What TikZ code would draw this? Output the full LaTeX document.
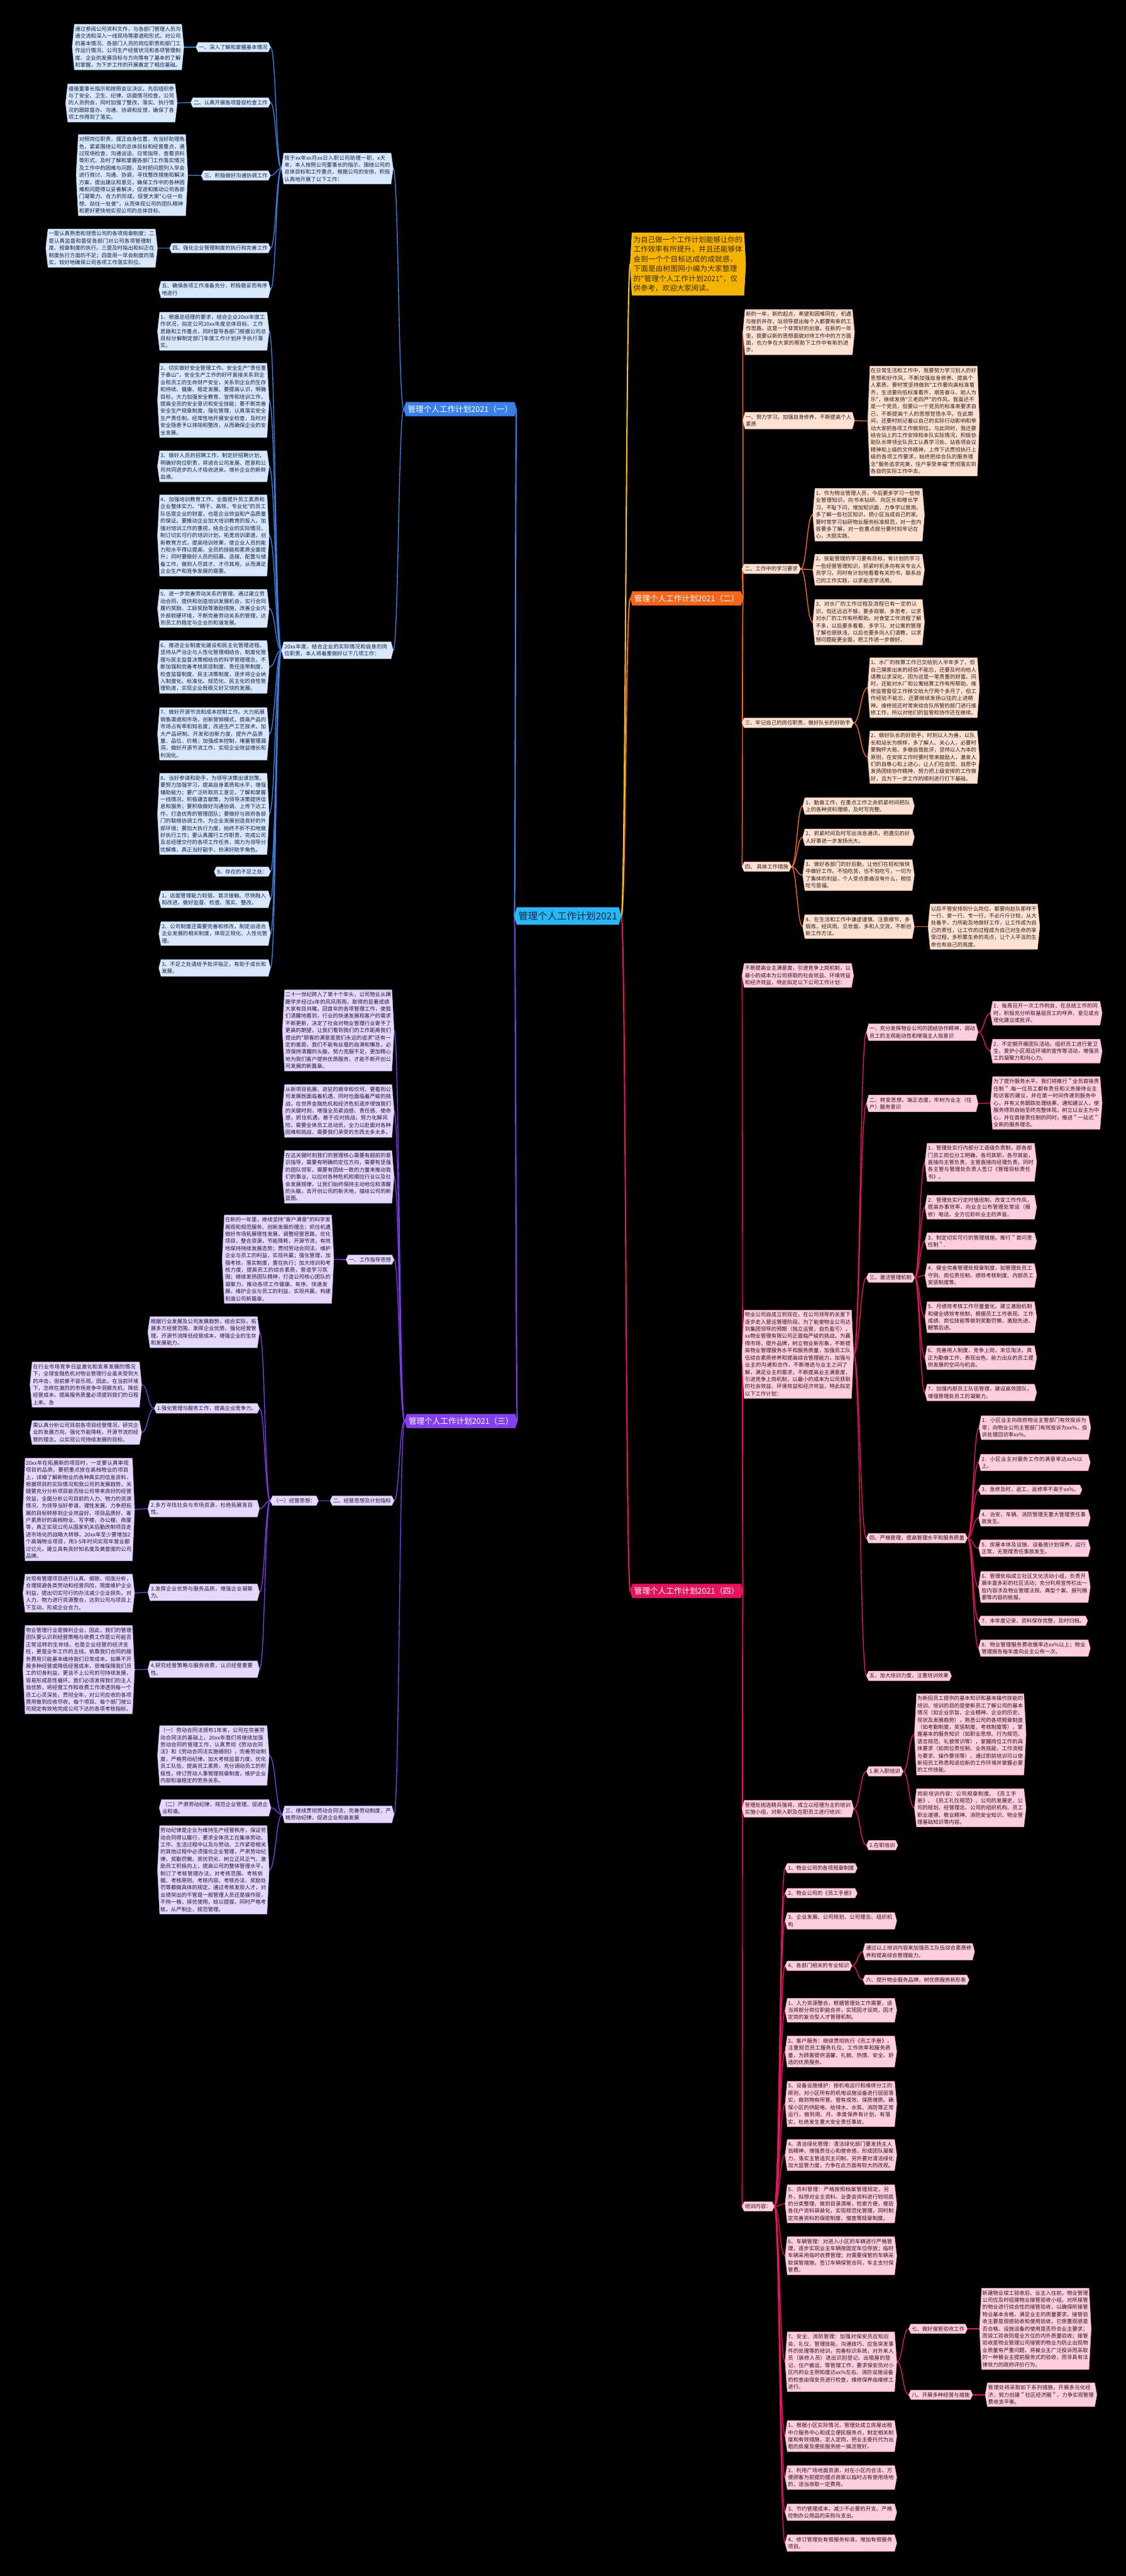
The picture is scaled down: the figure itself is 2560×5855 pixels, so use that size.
\documentclass[tikz,border=0pt]{standalone}
\usepackage{fontspec}
\newfontfamily\cjk{Noto Sans CJK SC}
\XeTeXlinebreaklocale "zh"
\XeTeXlinebreakskip=0pt plus 1pt
\usetikzlibrary{calc}
\pgfdeclarelayer{back}\pgfdeclarelayer{lines}\pgfdeclarelayer{bg}
\pgfsetlayers{back,lines,bg,main}
\definecolor{lineb}{HTML}{3C7FE0}\definecolor{fillb}{HTML}{DAE8FC}\definecolor{edgeb}{HTML}{A9C6F2}\definecolor{txtb}{HTML}{0E1F45}\definecolor{brb}{HTML}{3A80EA}
\definecolor{lineo}{HTML}{F06D22}\definecolor{fillo}{HTML}{FDE2D4}\definecolor{edgeo}{HTML}{F3B79A}\definecolor{txto}{HTML}{2B1A12}\definecolor{bro}{HTML}{F2661E}
\definecolor{linep}{HTML}{7A3DE6}\definecolor{fillp}{HTML}{E4D9FB}\definecolor{edgep}{HTML}{BCA6F0}\definecolor{txtp}{HTML}{1F1240}\definecolor{brp}{HTML}{8540EE}
\definecolor{liner}{HTML}{E8155F}\definecolor{fillr}{HTML}{FFCFE0}\definecolor{edger}{HTML}{F59ABD}\definecolor{txtr}{HTML}{2E0F1C}\definecolor{brr}{HTML}{E5125D}
\definecolor{liney}{HTML}{F2C01A}\definecolor{fillyl}{HTML}{F6B400}\definecolor{edgeyl}{HTML}{FFD45A}\definecolor{txtyl}{HTML}{3A2A00}
\definecolor{cfill}{HTML}{29B6F2}\definecolor{ctxt}{HTML}{0B2A45}
\tikzset{
 base/.style={font=\cjk\fontsize{12pt}{16.3pt}\selectfont, inner xsep=6.5pt, inner ysep=5pt, align=left},
 tw/.style={text width=240.5pt},
 lb/.style={draw=lineb, line width=2pt}, lo/.style={draw=lineo, line width=2pt},
 lp/.style={draw=linep, line width=2pt}, lr/.style={draw=liner, line width=2pt},
 mb/.style={draw=lineb, line width=3pt}, mo/.style={draw=lineo, line width=3pt},
 mp/.style={draw=linep, line width=3pt}, mr/.style={draw=liner, line width=3pt},
 my/.style={draw=liney, line width=3pt},
 brst/.style={font=\cjk\fontsize{18pt}{22pt}\selectfont, text=white, inner xsep=9pt, inner ysep=7pt},
}
\newcommand\hexit[4]{\begin{pgfonlayer}{bg}\filldraw[fill=#2,draw=#3,line width=0.8pt,line join=round] ([xshift=#4]#1.north west) -- ([xshift=-#4]#1.north east) -- (#1.east) -- ([xshift=-#4]#1.south east) -- ([xshift=#4]#1.south west) -- (#1.west) -- cycle;\end{pgfonlayer}}
\newcommand\mknode[6]{\node[base,text=txt#1,anchor=#3,#5] (#2) at (#4) {#6};\hexit{#2}{fill#1}{edge#1}{5pt}}
\newcommand\mylink[3]{\begin{pgfonlayer}{lines}\draw[#1] let \p1=(#2), \p2=(#3) in (\p1) .. controls ({0.5*\x1+0.5*\x2},\y1) and ({0.5*\x1+0.5*\x2},\y2) .. (\p2);\end{pgfonlayer}}
\newcommand\fanleft[3]{\foreach \c in {#3}{\mylink{#1}{#2.west}{\c.east}}}
\newcommand\fanright[3]{\foreach \c in {#3}{\mylink{#1}{#2.east}{\c.west}}}
\begin{document}
\begin{tikzpicture}[x=1pt,y=-1pt]
\useasboundingbox (0,0) rectangle (2560,5855);
\begin{pgfonlayer}{back}\fill[black] (0,0) rectangle (2560,5855);\end{pgfonlayer}

% ---------- central and branch nodes
\node[font=\cjk\fontsize{22pt}{26pt}\selectfont, text=ctxt, inner xsep=9pt, inner ysep=9pt] (C) at (1291,2082) {管理个人工作计划2021};
\hexit{C}{cfill}{cfill}{6pt}
\node[brst,anchor=west] (BR1) at (918,930) {管理个人工作计划2021（一）};\hexit{BR1}{brb}{brb}{5pt}
\node[brst,anchor=west] (BR3) at (920,3230) {管理个人工作计划2021（三）};\hexit{BR3}{brp}{brp}{5pt}
\node[brst,anchor=west] (BR2) at (1433,1360) {管理个人工作计划2021（二）};\hexit{BR2}{bro}{bro}{5pt}
\node[brst,anchor=west] (BR4) at (1433,3616) {管理个人工作计划2021（四）};\hexit{BR4}{brr}{brr}{5pt}
\node[font=\cjk\fontsize{16.5pt}{22pt}\selectfont, text=txtyl, text width=248pt, align=left, inner xsep=7pt, inner ysep=8pt, anchor=west] (INTRO) at (1433,600) {为自己做一个工作计划能够让你的工作效率有所提升，并且还能够体会到一个个目标达成的成就感，下面是由树图网小编为大家整理的"管理个人工作计划2021"，仅供参考，欢迎大家阅读。};
\hexit{INTRO}{fillyl}{edgeyl}{4pt}
\mylink{mb}{C.west}{BR1.east}
\mylink{mp}{C.west}{BR3.east}
\mylink{mo}{C.east}{BR2.west}
\mylink{mr}{C.east}{BR4.west}
\mylink{my}{C.east}{INTRO.west}

% ---------- branch 1 (blue)
\mknode{b}{I1}{east}{894,383}{tw}{我于xx年xx月xx日入职公司助理一职，x天来，本人按照公司董事长的指示，围绕公司的总体目标和工作重点，根据公司的安排，积极认真地开展了以下工作：}
\mknode{b}{I2}{east}{894,1478}{tw}{20xx年度，结合企业的实际情况和自身的岗位职责，本人将着重做好以下几项工作：}
\mknode{b}{A1}{east}{615,107}{}{一、深入了解和掌握基本情况}
\mknode{b}{A1c}{east}{418,107}{tw}{通过参阅公司资料文件，与各部门管理人员沟通交流和深入一线现场等渠道和形式，对公司的基本情况、各部门人员的岗位职责和部门工作运行情况，公司生产经营状况和各项管理制度、企业的发展目标与方向等有了基本的了解和掌握，为下步工作的开展奠定了相应基础。}
\mknode{b}{A2}{east}{615,233}{}{二、认真开展各项督促检查工作}
\mknode{b}{A2c}{east}{403,234}{tw}{遵循董事长指示和按照会议决议，先后组织参与了安全、卫生、纪律、店面情况检查，公司的人员例会，同时加强了整改、落实、执行情况的跟踪督办、沟通、协调和反馈，确保了各项工作得到了落实。}
\mknode{b}{A3}{east}{615,399}{}{三、积极做好沟通协调工作}
\mknode{b}{A3c}{east}{427,398}{tw}{对照岗位职责，摆正自身位置，充当好助理角色，紧紧围绕公司的总体目标和经营重点，通过现场检查、沟通谈话、日常指导、查看资料等形式，及时了解和掌握各部门工作落实情况及工作中的困难与问题，及时把问题列入早会进行商讨、沟通、协调，寻找整改措施和解决方案，提出建议和意见，确保工作中的各种困难和问题得以妥善解决，促进和推动公司各部门凝聚力、合力的形成，促使大家"心往一处想、劲往一处使"，从而体现公司的团队精神和更好更快地实现公司的总体目标。}
\mknode{b}{A4}{east}{615,564}{}{四、强化企业管理制度的执行和完善工作}
\mknode{b}{A4c}{east}{358,564}{tw}{一是认真熟悉和领悟公司的各项规章制度；二是认真监督和督促各部门对公司各项管理制度、规章制度的执行。三是及时指出和纠正在制度执行方面的不足；四是周一早会制度的落实，较好地确保公司各项工作落实到位。}
\mknode{b}{A5}{east}{615,658}{tw}{五、确保各项工作准备充分，积极稳妥而有序地进行}
\mknode{b}{B1}{east}{612,753}{tw}{1、根据总经理的要求，结合企业20xx年度工作状况，拟定公司20xx年度总体目标、工作思路和工作重点，同时督导各部门根据公司总目标分解制定部门年度工作计划并予执行落实。}
\mknode{b}{B2}{east}{612,910}{tw}{2、切实做好安全管理工作。安全生产"责任重于泰山"，安全生产工作的好坏直接关系到企业和员工的生命财产安全，关系到企业的生存和持续、健康、稳定发展。要提高认识，明确目标，大力加强安全教育、宣传和培训工作，提高全员的安全意识和安全技能；要不断完善安全生产规章制度，强化管理，认真落实安全生产责任制，经常性地开展安全检查，及时对安全隐患予以排除和整改，从而确保企业的安全发展。}
\mknode{b}{B3}{east}{612,1060}{tw}{3、做好人员的招聘工作，制定好招聘计划，明确好岗位职责，将适合公司发展、愿意和公司共同进步的人才吸收进来。增补企业的新鲜血液。}
\mknode{b}{B4}{east}{612,1217}{tw}{4、加强培训教育工作，全面提升员工素质和企业整体实力。"精干、高效、专业化"的员工队伍是企业的财富，也是企业效益和产品质量的保证。要推动企业加大培训教育的投入，加强对培训工作的重视，结合企业的实际情况，制订切实可行的培训计划，拓宽培训渠道，创新教育方式，提高培训效果，使企业人员的能力和水平得以提高，全员的技能和素质全面提升；同时要做好人员的招募、选拔、配置与储备工作，做到人尽其才、才尽其用，从而满足企业生产和竞争发展的需要。}
\mknode{b}{B5}{east}{612,1383}{tw}{5、进一步完善劳动关系的管理。通过建立劳动合同，提供和创造培训发展机会，实行合同履约奖励、工龄奖励等激励措施，改善企业内外部软硬环境，不断完善劳动关系的管理，达到员工的稳定与企业的和谐发展。}
\mknode{b}{B6}{east}{612,1516}{tw}{6、推进企业制度化建设和民主化管理进程。坚持从严治企与人性化管理相结合，制度化管理与民主监督决策相结合的科学管理理念，不断加强和完善考核奖惩制度、责任连带制度、检查监督制度、民主决策制度，逐步将企业纳入制度化、标准化、规范化、民主化的良性管理轨道，实现企业既稳又好又快的发展。}
\mknode{b}{B7}{east}{612,1668}{tw}{7、做好开源节流和成本控制工作。大力拓展销售渠道和市场，创新营销模式，提高产品的市场占有率和知名度；改进生产工艺技术，加大产品研制、开发和创新力度，提升产品质量、品位、价格；加强成本控制，堵塞管理漏洞，做好开源节流工作，实现企业效益增长和利润化。}
\mknode{b}{B8}{east}{612,1850}{tw}{8、当好参谋和助手，为领导决策出谋划策。要努力加强学习，提高自身素质和水平，增强辅助能力；要广泛听取员工意见，了解和掌握一线情况，积极建言献策，为领导决策提供信息和服务；要积极做好沟通协调、上传下达工作，打造优秀的管理团队；要做好与政府各部门的联络协调工作，为企业发展创造良好的外部环境；要加大执行力度，始终不折不扣地做好执行工作；要认真履行工作职责，完成公司及总经理交付的各项工作任务，竭力为领导分忧解难，真正当好副手，扮演好助手角色。}
\mknode{b}{B9}{east}{615,1981}{}{9、存在的不足之处：}
\mknode{b}{B10}{east}{615,2044}{tw}{1、店面管理能力较弱，首次接触、尽快融入和改进，做好监督、检查、落实、整改。}
\mknode{b}{B11}{east}{615,2122}{tw}{2、公司制度还需要完善和修改，制定出适合企业发展的相关制度，体现正规化、人性化管理。}
\mknode{b}{B12}{east}{615,2200}{tw}{3、不足之处请给予批评指正，有助于成长和发展。}
\fanleft{lb}{BR1}{I1,I2}
\fanleft{lb}{I1}{A1,A2,A3,A4,A5}
\mylink{lb}{A1.west}{A1c.east}\mylink{lb}{A2.west}{A2c.east}\mylink{lb}{A3.west}{A3c.east}\mylink{lb}{A4.west}{A4c.east}
\fanleft{lb}{I2}{B1,B2,B3,B4,B5,B6,B7,B8,B9,B10,B11,B12}

% ---------- branch 3 (purple)
\mknode{p}{Q0}{east}{896,2342}{tw}{二十一世纪跨入了第十个年头，公司物业从蹒跚学步经过x年的风风雨雨，取得的显著成绩大家有目共睹。回首年的各项管理工作，使我们清醒地看到，行业的快速发展和客户的需求不断更新，决定了社会对物业管理行业寄予了更高的期望，让我们看到我们的工作距离我们提出的"顾客的满意是我们永远的追求"还有一定的差距，我们不能有丝毫的自满和懈怠，必须保持清醒的头脑，努力克服不足，更加精心地为我们客户提供优质服务，才能不断开创公司发展的新篇章。}
\mknode{p}{Q1}{east}{896,2525}{tw}{从新项目拓展、进驻的艰辛和坎坷，要看到公司发展既面临着机遇，同时也面临着严峻的挑战。在世界金融危机和经济危机逐步侵蚀我们的关键时刻，增强全员紧迫感、责任感、使命感，抓住机遇，敢于应对挑战，努力化解风险，需要全体员工总动员，全力以赴面对各种困难和挑战，需要我们承受的东西太多太多。}
\mknode{p}{Q2}{east}{896,2675}{tw}{在这关键时刻我们的管理核心需要有超前的意识指导，需要有明确的定位方向，需要有坚强的团队领军，需要有团结一致的力量来推动我们的事业，以应对各种危机和顺应行业以及社会发展规律，让我们始终保持主动地位和清醒的头脑，去开创公司的新天地，描绘公司的新蓝图。}
\mknode{p}{Q3}{east}{896,2863}{}{一、工作指导思想}
\mknode{p}{Q3a}{east}{759,2862}{tw}{在新的一年里，继续坚持"客户满意"的科学发展观和规范服务、创新发展的理念；抓住机遇做好市场拓展理性发展，调整经营思路，优化项目，整合资源，节能降耗，开源节流，有效地保持持续发展态势；贯彻劳动合同法，维护企业与员工的利益，实现共赢；强化管理，加强考核，落实制度，重在执行；加大培训和考核力度，提高员工的综合素质，营造学习氛围；继续发扬团队精神，打造公司核心团队的凝聚力，推动各项工作健康、有序、快速发展，维护企业与员工的利益，实现共赢，构建和谐公司新篇章。}
\mknode{p}{Q4}{east}{896,3411}{}{二、经营思想及计划指标}
\mknode{p}{Q4a}{east}{724,3411}{}{（一）经营思想：}
\mknode{p}{Q4a0}{east}{590,3028}{tw}{根据行业发展及公司发展趋势，结合实际，拓展多方经营范围，发挥企业优势、强化经营管理，开源节流降低经营成本，增强企业的生存和发展能力。}
\mknode{p}{Q4a1}{east}{590,3201}{}{1.强化管理与服务工作，提高企业竞争力。}
\mknode{p}{Q4a1a}{east}{322,3147}{tw}{在行业市场竞争日益激化和变革发展的情况下，全球金融危机对物业管理行业虽未受到大的冲击，但前景不容乐观，因此，在当前环境下，怎样在激烈的市场竞争中洞察先机，降低经营成本，提高服务质量必须提到我们的日程上来。急}
\mknode{p}{Q4a1b}{east}{322,3256}{tw}{需认真分析公司目前各项目经营情况，研究企业的发展方向，强化节能降耗，开源节流的经营的理念，以实现公司持续发展的目标。}
\mknode{p}{Q4a2}{east}{590,3429}{tw}{2.多方寻找社会与市场资源，杜绝拓展盲目性。}
\mknode{p}{Q4a2a}{east}{306,3431}{tw}{20xx年在拓展新的项目时，一定要认真审视项目的品质，要把重点放在高档物业的项目上，详细了解新物业的各种真实的信息资料，根据项目的实际情况和我公司的发展趋势，关键要充分分析项目能否给公司带来良好的经营效益，全面分析公司目前的人力、物力的资源情况，为领导当好参谋，理性发展。力争把拓展的目标转移到企业效益好、项目品质好、客户素质好的高档物业、写字楼、办公楼、商厦等，真正实现公司从国家机关后勤改制项目走进市场化的战略大转移。20xx年至少要增加2个高端物业项目，用3-5年时间实现年营业额过亿元，建立具有良好知名度及美誉度的公司品牌。}
\mknode{p}{Q4a3}{east}{590,3619}{tw}{3.发挥企业优势与服务品质，增强企业凝聚力。}
\mknode{p}{Q4a3a}{east}{306,3621}{tw}{对现有管理项目进行认真、细致、彻底分析，合理规避各类劳动和经营风险，限度维护企业利益，提出切实可行的办法减少企业损失。对人力、物力进行资源整合，达到公司与项目上下互动、形成企业合力。}
\mknode{p}{Q4a4}{east}{590,3794}{tw}{4.研究经营策略与服务收费，认识经营重要性。}
\mknode{p}{Q4a4a}{east}{306,3795}{tw}{物业管理行业是微利企业，因此，我们的管理团队要认识到经营策略与收费工作是公司能否正常运转的生命线，也是企业经营的经济支柱，更是全年工作的主线。依靠我们合同的服务费用只能基本维持我们日常成本，如果不开展多种经营或降低经营成本，很难保障我们员工的切身利益，更谈不上公司的可持续发展，容易形成恶性循环。我们必须发挥我们的主人翁优势，将经营工作和收费工作渗透到每一个员工心灵深处，贯彻全年，对公司应收的各项费用做到应收尽收。每个项目、每个部门按公司规定有效地完成公司下达的各项考核指标。}
\mknode{p}{Q5}{east}{896,4124}{tw}{三、继续贯彻劳动合同法，完善劳动制度，严格劳动纪律，促进企业和谐发展}
\mknode{p}{Q5a}{east}{612,3990}{tw}{（一）劳动合同法颁布1年来，公司在完善劳动合同法的基础上，20xx年我们将继续加强劳动合同的管理工作，认真贯彻《劳动合同法》和《劳动合同法实施细则》，完善劳动制度，严格劳动纪律，加大考核监督力度，优化员工队伍，提高员工素质，充分调动员工的积极性，修订劳动人事管理规章制度，维护企业内部和谐稳定的劳务关系。}
\mknode{p}{Q5b}{east}{616,4109}{tw}{（二）严肃劳动纪律，规范企业管理，促进企业和谐。}
\mknode{p}{Q5c}{east}{612,4250}{tw}{劳动纪律是企业为维持生产经营秩序，保证劳动合同得以履行，要求全体员工在集体劳动、工作、生活过程中以及与劳动、工作紧密相关的其他过程中必须强化企业管理，严肃劳动纪律、奖勤罚懒、奖优罚劣、树立正风正气、激励员工积极向上，提高公司的整体管理水平，制订了考核管理办法。对考核范围、考核依据、考核原则、考核内容、考核办法、奖励处罚等都做具体的规定。通过考核发现人才，对业绩突出的不管是一般管理人员还是操作层，不拘一格，择优使用，给以提拔。同时严格考核，从严制企，规范管理。}
\fanleft{lp}{BR3}{Q0,Q1,Q2,Q3,Q4,Q5}
\mylink{lp}{Q3.west}{Q3a.east}
\mylink{lp}{Q4.west}{Q4a.east}
\fanleft{lp}{Q4a}{Q4a0,Q4a1,Q4a2,Q4a3,Q4a4}
\fanleft{lp}{Q4a1}{Q4a1a,Q4a1b}
\mylink{lp}{Q4a2.west}{Q4a2a.east}\mylink{lp}{Q4a3.west}{Q4a3a.east}\mylink{lp}{Q4a4.west}{Q4a4a.east}
\fanleft{lp}{Q5}{Q5a,Q5b,Q5c}

% ---------- branch 2 (orange)
\mknode{o}{O0}{west}{1689,755}{tw}{新的一年，新的起点，希望和困难同在，机遇与挫折并存，站领导提出每个人都要有新的工作思路，这是一个非常好的创意。在新的一年里，我要以新的思想面貌对待工作中的方方面面，也力争在大家的帮助下工作中有新的进步。}
\mknode{o}{O1}{west}{1689,956}{tw}{一、努力学习，加强自身修养，不断提高个人素质}
\mknode{o}{O1c}{west}{1973,957}{tw}{在日常生活和工作中，我要努力学习别人的好思想和好作风，不断加强自身修养、提高个人素质。要时常坚持做到"工作要向高标准看齐，生活要向低标准看齐，艰苦奋斗、助人为乐"，继续发扬"三老四严"的作风。我虽还不是一个党员，但要以一个党员的标准来要求自己，不断提高个人的思想觉悟水平。在此期间，还要时刻记着以自己的实际行动影响和带动大家把各项工作做到位。与此同时，我还要结合站上的工作安排和本队实际情况，积极协助队长带领全队员工认真学习处、站各项会议精神和上级的文件精神，上传下达贯彻执行上级的各项工作要求，始终把综合队的服务理念"服务追求完美，住户享受幸福"贯彻落实到各自的实际工作中去。}
\mknode{o}{O2}{west}{1687,1293}{}{二、工作中的学习要求}
\mknode{o}{O2c1}{west}{1848,1170}{tw}{1、作为物业管理人员，今后要多学习一些物业管理知识，向书本钻研、向区长和楼长学习，不耻下问，增加知识面，力争学以致用。多了解一些社区知识，把小区当成自己的家。要时常学习钻研物业服务标准规范，对一些内容要多了解，对一些重点部分要时刻牢记在心，大胆实践。}
\mknode{o}{O2c2}{west}{1848,1295}{tw}{2、技能管理的学习要有目标，有计划的学习一些经营管理知识，抓紧时机多向有关专业人员学习，同时有计划地看看有关的书，联系自己的工作实践，以求能活学活用。}
\mknode{o}{O2c3}{west}{1848,1414}{tw}{3、对水厂的工作过程及流程已有一定的认识，但还远远不够，要多观察、多思考，以求对水厂的工作有所帮助。对食堂工作流程了解不多，以后要多看看、多学习。对公寓的管理了解也很肤浅，以后也要多向人们请教，以求想问题能更全面，把工作进一步做好。}
\mknode{o}{O3}{west}{1687,1643}{}{三、牢记自己的岗位职责，做好队长的好助手}
\mknode{o}{O3c1}{west}{1973,1563}{tw}{1、水厂的核算工作已交给别人半年多了，但自己摸索出来的经验不能忘，还要及时向他人请教以求深化，因为这是一笔贵重的财富。同时，还能对水厂和公寓结算工作有所帮助。维修监管督促工作移交给大厅两个多月了，但工作经验不能忘，还要继续发扬以往的上进精神。维修班还时常来综合队所管的部门进行维修工作，所以对他们的监管和协作还在继续。}
\mknode{o}{O3c2}{west}{1973,1721}{tw}{2、做好队长的好助手，时刻以人为善，以队长和站长为榜样，多了解人、关心人，必要时要胸怀大局，多做自我批评，坚持以人为本的原则，在安排工作时要时常来鼓励人，激发人们的自尊心和上进心，让人们在自觉、自愿中发扬团结协作精神，努力把上级安排的工作做好，且为下一步工作的顺利进行打下基础。}
\mknode{o}{O4}{west}{1687,1970}{}{四、 具体工作措施}
\mknode{o}{O4c1}{west}{1825,1832}{tw}{1、勤奋工作，在重点工作之余抓紧时间把队上的各种资料理顺，及时写完整。}
\mknode{o}{O4c2}{west}{1825,1903}{tw}{2、抓紧时间及时写出消息通讯，把遇见的好人好事进一步发扬光大。}
\mknode{o}{O4c3}{west}{1825,1989}{tw}{3、做好各部门的好后勤，让他们在轻松愉快中做好工作。不怕吃苦，也不怕吃亏，一切为了集体的利益，个人受点委曲没有什么，相信吃亏是福。}
\mknode{o}{O4c4}{west}{1825,2106}{tw}{4、在生活和工作中谦虚谨慎、注意细节，多锻炼，经风雨、见世面，多和人交流，不断创新工作方法。}
\mknode{o}{O4c4c}{west}{2110,2106}{tw}{以后不管安排到什么岗位，都要向赵队那样干一行、爱一行、专一行，不必斤斤计较，从大处着手，力所能及地做好工作，让工作成为自己的责任，让工作的过程成为自己对生命的享受过程，多积累生命的亮点，让个人平淡的生命也有自己的亮度。}
\fanright{lo}{BR2}{O0,O1,O2,O3,O4}
\mylink{lo}{O1.east}{O1c.west}
\fanright{lo}{O2}{O2c1,O2c2,O2c3}
\fanright{lo}{O3}{O3c1,O3c2}
\fanright{lo}{O4}{O4c1,O4c2,O4c3,O4c4}
\mylink{lo}{O4c4.east}{O4c4c.west}

% ---------- branch 4 (pink)
\mknode{r}{P0}{west}{1687,2217}{tw}{不断提高业主满意度，引进竞争上岗机制，以最小的成本为公司获取的社会效益、环境效益和经济效益，特此拟定以下公司工作计划：}
\mknode{r}{P1}{west}{1687,3078}{tw}{物业公司自成立到现在，在公司领导的关爱下逐步走入营运管理阶段，为了能使物业公司达到集团领导的预期（独立运营，自负盈亏），xx物业管理有限公司正面临严峻的挑战，为赢得市场，提升品牌，树立物业新形象，不断提高物业管理服务水平和服务质量，加强员工队伍综合素质修养和提高综合管理能力，加强与业主的沟通和合作，不断增进与业主之间了解，满足业主的需求，不断提高业主满意度，引进竞争上岗机制，以最小的成本为公司获取的社会效益、环境效益和经济效益，特此拟定以下工作计划：}
\mknode{r}{P1a}{west}{1970,2346}{tw}{一、充分发挥物业公司的团结协作精神，调动员工的主观能动性和增强主人翁意识}
\mknode{r}{P1a1}{west}{2252,2303}{tw}{1．每周召开一次工作例会，在总结工作的同时，积极充分听取基层员工的呼声、意见或合理化建议或批评。}
\mknode{r}{P1a2}{west}{2252,2389}{tw}{2．不定期开展团队活动。组织员工进行爱卫生、爱护小区周边环境的宣传等活动，增强员工的凝聚力和向心力。}
\mknode{r}{P1b}{west}{1970,2508}{tw}{二、转变思想，端正态度，牢树为业主（住户）服务意识}
\mknode{r}{P1b1}{west}{2252,2507}{tw}{为了提升服务水平，我们将推行＂全员首接责任制＂.每一位员工都有责任和义务接待业主和访客的建议，并在第一时间传递到服务中心，并有义务跟踪处理结果，通知建议人，使服务得到自始至终完整体现。树立以业主为中心，并在首接责任制的同时，推进＂一站式＂全新的服务理念。}
\mknode{r}{P1c}{west}{1970,2904}{}{三、激活管理机制}
\mknode{r}{P1c1}{west}{2103,2642}{tw}{1．管理处实行内部分工逐级负责制，即各部门员工岗位分工明确，各司其职，各尽其能，直接向主管负责，主管直接向经理负责，同时各主管与管理处负责人签订《管理目标责任书》。}
\mknode{r}{P1c2}{west}{2103,2744}{tw}{2．管理处实行定时值班制，改变工作作风，提高办事效率，向业主公布管理处常设（报修）电话，全方位聆听业主的声音。}
\mknode{r}{P1c3}{west}{2103,2821}{tw}{3．制定切实可行的管理措施，推行＂首问责任制＂.}
\mknode{r}{P1c4}{west}{2103,2899}{tw}{4．健全完善管理处规章制度，如管理处员工守则、岗位责任制、绩效考核制度、内部员工奖惩制度等。}
\mknode{r}{P1c5}{west}{2103,2994}{tw}{5．月绩效考核工作尽量量化，建立激励机制和健全绩效考核制，根据员工工作表现、工作成绩、岗位技能等做到奖勤罚懒，激励先进、鞭策后进。}
\mknode{r}{P1c6}{west}{2103,3086}{tw}{6．完善用人制度，竞争上岗，末位淘汰。真正为勤奋工作、表现出色、能力出众的员工提供发展的空间与机会。}
\mknode{r}{P1c7}{west}{2103,3165}{tw}{7．加强内部员工队伍管理，建设高效团队，增强管理处员工的凝聚力。}
\mknode{r}{P1d}{west}{1970,3496}{}{四、严格管理，提高管理水平和服务质量}
\mknode{r}{P1d1}{west}{2226,3245}{tw}{1．小区业主向政府物业主管部门有效投诉为零；向物业公司主管部门有效投诉为xx\%，投诉处理回访率xx\%。}
\mknode{r}{P1d2}{west}{2225,3324}{tw}{2．小区业主对服务工作的满意率达xx\%以上。}
\mknode{r}{P1d3}{west}{2225,3386}{}{3．急修及时，返工、返修率不高于xx\%。}
\mknode{r}{P1d4}{west}{2225,3450}{tw}{4．治安、车辆、消防管理无重大管理责任事故发生。}
\mknode{r}{P1d5}{west}{2225,3519}{tw}{5．房屋本体及设施、设备按计划保养，运行正常，无管理责任事故发生。}
\mknode{r}{P1d6}{west}{2225,3607}{tw}{6．管理处拟成立社区文化活动小组，负责开展丰富多彩的社区活动；充分利用宣传栏出一些内容涉及物业管理法规、典型个案、报刊摘要等内容的板报。}
\mknode{r}{P1d7}{west}{2225,3684}{}{7．本年度记录、资料保存完整，及时归档。}
\mknode{r}{P1d8}{west}{2225,3746}{tw}{8．物业管理服务费收缴率达xx\%以上；物业管理报告每年度向业主公布一次。}
\mknode{r}{P1e}{west}{1970,3809}{}{五、加大培训力度，注重培训效果}
\mknode{r}{P2}{west}{1687,4111}{tw}{管理处挑选精兵强将，成立以经理为主的培训实施小组，对新入职及在职员工进行培训：}
\mknode{r}{P2a}{west}{1970,4026}{}{1.新入职培训}
\mknode{r}{P2a1}{west}{2079,3942}{tw}{为新招员工提供的基本知识和基本操作技能的培训。培训的目的是使新员工了解公司的基本情况（如企业宗旨、企业精神、企业的历史、现状及发展趋势），熟悉公司的各项规章制度（如考勤制度，奖惩制度、考核制度等），掌握基本的服务知识（如职业思想、行为规范、语言规范、礼貌常识等），掌握岗位工作的具体要求（如岗位责任制、业务技能、工作流程与要求、操作要领等）。通过职前培训可以使新招员工熟悉和适应新的工作环境并掌握必要的工作技能。}
\mknode{r}{P2a2}{west}{2079,4109}{tw}{岗前培训内容：公司规章制度、《员工手册》、《员工礼仪规范》、公司的发展史、公司的规划、经营理念、公司的组织机构、员工职业道德、敬业精神、消防安全知识、物业管理基础知识等内容。}
\mknode{r}{P2b}{west}{1970,4194}{}{2.在职培训}
\mknode{r}{P3}{west}{1687,5015}{}{培训内容：}
\mknode{r}{P3a}{west}{1785,4246}{}{1、物业公司的各项规章制度}
\mknode{r}{P3b}{west}{1785,4303}{}{2、物业公司的《员工手册》}
\mknode{r}{P3c}{west}{1785,4366}{tw}{3、企业发展、公司规划、公司理念、组织机构}
\mknode{r}{P3d}{west}{1785,4468}{}{4、各部门相关的专业知识}
\mknode{r}{P3d1}{west}{1962,4436}{tw}{通过以上培训内容来加强员工队伍综合素质修养和提高综合管理能力。}
\mknode{r}{P3d2}{west}{1962,4500}{}{六、提升物业服务品牌，树优质服务新形象}
\mknode{r}{P3e}{west}{1785,4569}{tw}{1、人力资源整合，根据管理处工作需要，适当将部分岗位职能合并，实现因才设岗，因才定岗的复合型人才管理机制。}
\mknode{r}{P3f}{west}{1785,4663}{tw}{2、客户服务：继续贯彻执行《员工手册》，注重规范员工服务礼仪、工作效率和服务质量，为顾客提供温馨、礼貌、热情、安全、舒适的优质服务。}
\mknode{r}{P3g}{west}{1785,4782}{tw}{3、设备设施维护：按机电运行和维修分工的原则，对小区所有的机电设施设备进行层层落实，做到物有所管、管有成效、保质增质。确保小区的供配电、给排水、水泵、消防等正常运行，做到周、月、季度保养有计划，有落实，杜绝发生重大安全责任事故。}
\mknode{r}{P3h}{west}{1785,4898}{tw}{4、清洁绿化管理：清洁绿化部门要发扬主人翁精神，增强责任心和使命感，形成团队凝聚力，落实主管追究主问制。另外要对清洁绿化加大监管力度，力争在此方面有较大的改观。}
\mknode{r}{P3i}{west}{1785,5009}{tw}{5、资料管理：严格按照档案管理规定。另外，拟想对业主资料、业委会资料进行较彻底的分类整理，做到目录清晰，检索方便，楼层各住户资料袋装化，实现规范化管理，同时制定完善资料的保密制度、借查等规章制度。}
\mknode{r}{P3j}{west}{1785,5127}{tw}{6、车辆管理：对进入小区的车辆进行严格管理，逐步实现业主车辆按固定车位停放；临时车辆采用临时收费管理；对需要保管的车辆采取保管措施，签订车辆保管合同，车主支付保管费。}
\mknode{r}{P3k}{west}{1785,5368}{tw}{7、安全、消防管理：加强对保安员应知应会、礼仪、管理技能、沟通技巧、应急突发事件的处理等的培训，完善标识系统，对外来人员（装修人员）进出识别登记、出租屋的登记、住户搬运、等管理工作，要求保安员对小区内的业主熟知度达xx\%左右。消防设施设备的检查由保安员进行检查，维修保养由维修工进行。}
\mknode{r}{P3k1}{west}{2066,5293}{}{七、做好接管验收工作}
\mknode{r}{P3k1a}{west}{2227,5293}{tw}{新建物业竣工验收后、业主入住前，物业管理公司应及时组建物业接管验收小组，对所接管的物业进行综合性的接管验收，以确保所接管物业基本合格，满足业主的质量要求。接管验收主要是观感验收和使用验收，它侧重观感是否合格、设施设备的使用是否符合业主要求；而竣工验收则是全方位的内外质量验收；接管验收是物业管理公司接管的物业为防止出现物业质量有严重问题、将被业主广泛投诉而采取的一种替业主提前服务式的验收，而非具有法律效力的政府评价行为。}
\mknode{r}{P3k2}{west}{2066,5443}{}{八、开展多种经营与措施}
\mknode{r}{P3k2a}{west}{2240,5443}{tw}{管理处将采取如下系列措施，开展多元化经济，努力创建＂社区经济圈＂，力争实现管理费收支平衡。}
\mknode{r}{P3l}{west}{1785,5537}{tw}{1、根据小区实际情况，管理处成立房屋出租中介服务中心和成立便民服务点，制定相关制度和有效措施，定人定岗，把业主委托代为出租的房屋及便民服务统一搞活管好。}
\mknode{r}{P3m}{west}{1785,5631}{tw}{2、利用广场地面资源，对在小区内合法、方便顾客为前提的摆点商家以临时占有使用场地的，适当收取一定费用。}
\mknode{r}{P3n}{west}{1785,5710}{tw}{3、节约管理成本，减少不必要的开支。严格控制办公用品的采购与支出。}
\mknode{r}{P3o}{west}{1785,5780}{tw}{4、修订管理处有偿服务标准，增加有偿服务项目。}
\fanright{lr}{BR4}{P0,P1,P2,P3}
\fanright{lr}{P1}{P1a,P1b,P1c,P1d,P1e}
\fanright{lr}{P1a}{P1a1,P1a2}
\mylink{lr}{P1b.east}{P1b1.west}
\fanright{lr}{P1c}{P1c1,P1c2,P1c3,P1c4,P1c5,P1c6,P1c7}
\fanright{lr}{P1d}{P1d1,P1d2,P1d3,P1d4,P1d5,P1d6,P1d7,P1d8}
\fanright{lr}{P2}{P2a,P2b}
\fanright{lr}{P2a}{P2a1,P2a2}
\fanright{lr}{P3}{P3a,P3b,P3c,P3d,P3e,P3f,P3g,P3h,P3i,P3j,P3k,P3l,P3m,P3n,P3o}
\fanright{lr}{P3d}{P3d1,P3d2}
\fanright{lr}{P3k}{P3k1,P3k2}
\mylink{lr}{P3k1.east}{P3k1a.west}
\mylink{lr}{P3k2.east}{P3k2a.west}
\end{tikzpicture}
\end{document}
